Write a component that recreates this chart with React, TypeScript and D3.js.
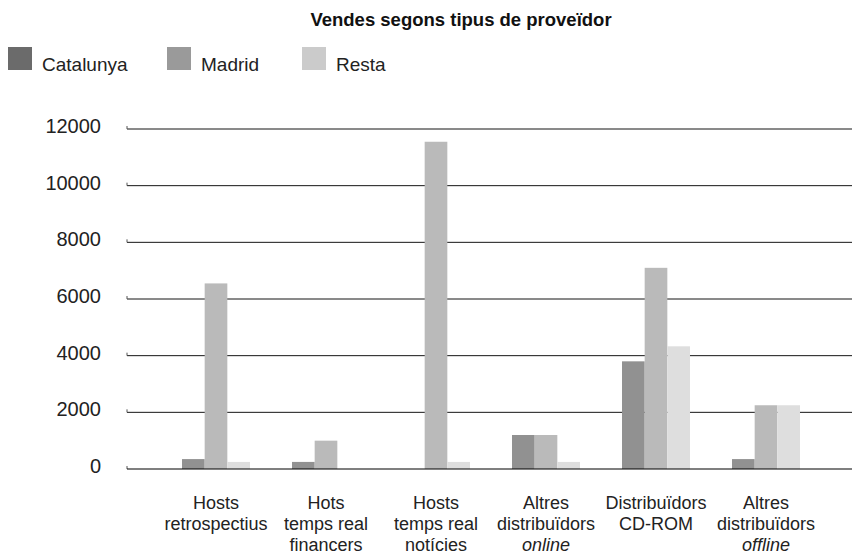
import React from "react";
import * as d3 from "d3";

const title = "Vendes segons tipus de proveïdor";
const categories = ["c1", "c2", "c3", "c4", "c5", "c6"];
const categoryLabels: { text: string; italic?: boolean }[][] = [
  [{ text: "Hosts" }, { text: "retrospectius" }],
  [{ text: "Hots" }, { text: "temps real" }, { text: "financers" }],
  [{ text: "Hosts" }, { text: "temps real" }, { text: "notícies" }],
  [{ text: "Altres" }, { text: "distribuïdors" }, { text: "online", italic: true }],
  [{ text: "Distribuïdors" }, { text: "CD-ROM" }],
  [{ text: "Altres" }, { text: "distribuïdors" }, { text: "offline", italic: true }],
];
const seriesNames = ["Catalunya", "Madrid", "Resta"];
const catalunya = [350, 250, 0, 1200, 3800, 350];
const madrid = [6550, 1000, 11550, 1200, 7100, 2250];
const resta = [250, 0, 250, 250, 4330, 2250];
const seriesValues = [catalunya, madrid, resta];
const yTicks = [0, 2000, 4000, 6000, 8000, 10000, 12000];

const barColors = ["#919191", "#bababa", "#dedede"];
const legendColors = ["#6b6b6b", "#9a9a9a", "#cbcbcb"];

const W = 852;
const H = 556;
const FONT = "'Liberation Sans', Arial, sans-serif";

export default function App() {
  const y = d3.scaleLinear().domain([0, 12000]).range([469, 129]);
  const x = d3
    .scaleBand<string>()
    .domain(categories)
    .range([161, 821])
    .paddingInner(0.382)
    .paddingOuter(0.191);
  const xs = d3
    .scaleBand<string>()
    .domain(seriesNames)
    .range([0, x.bandwidth()]);
  const legendX = d3.scaleOrdinal<string, number>().domain(seriesNames).range([8, 167, 302]);

  const gridLeft = 127;
  const gridRight = W;

  return (
    <svg
      width={W}
      height={H}
      style={{ position: "absolute", left: 0, top: 0, background: "#fff" }}
      fontFamily={FONT}
    >
      <rect x={0} y={0} width={W} height={H} fill="#fff" />
      <text x={461} y={26} textAnchor="middle" fontSize={18.5} fontWeight="bold" fill="#111">
        {title}
      </text>
      {seriesNames.map((s, i) => (
        <g key={s} transform={`translate(${legendX(s)},0)`}>
          <rect x={0} y={47} width={24} height={23} fill={legendColors[i]} />
          <text x={34} y={71} fontSize={19} fill="#222">
            {s}
          </text>
        </g>
      ))}
      {yTicks.map((t) => (
        <g key={t}>
          {t !== 0 && (
            <line x1={gridLeft} x2={gridRight} y1={y(t)} y2={y(t)} stroke="#151515" strokeWidth={1} />
          )}
          <line x1={gridLeft} x2={gridLeft} y1={y(t) - 3} y2={y(t)} stroke="#555" strokeWidth={1} />
          <text x={101} y={y(t) + 4} textAnchor="end" fontSize={20} fill="#222">
            {t}
          </text>
        </g>
      ))}
      {categories.map((c, ci) => (
        <g key={c} transform={`translate(${x(c)},0)`}>
          {seriesNames.map((s, si) => {
            const v = seriesValues[si][ci];
            if (!v) return null;
            return (
              <rect
                key={s}
                x={xs(s)}
                y={y(v)}
                width={xs.bandwidth()}
                height={y(0) - y(v)}
                fill={barColors[si]}
              />
            );
          })}
        </g>
      ))}
      <line x1={gridLeft} x2={gridRight} y1={y(0)} y2={y(0)} stroke="#000" strokeOpacity={0.5} strokeWidth={2} />
      {categories.map((c, ci) => (
        <text
          key={c}
          x={(x(c) as number) + x.bandwidth() / 2}
          y={509}
          textAnchor="middle"
          fontSize={18}
          fill="#222"
        >
          {categoryLabels[ci].map((l, li) => (
            <tspan
              key={li}
              x={(x(c) as number) + x.bandwidth() / 2}
              y={509 + li * 21}
              fontStyle={l.italic ? "italic" : "normal"}
            >
              {l.text}
            </tspan>
          ))}
        </text>
      ))}
    </svg>
  );
}
